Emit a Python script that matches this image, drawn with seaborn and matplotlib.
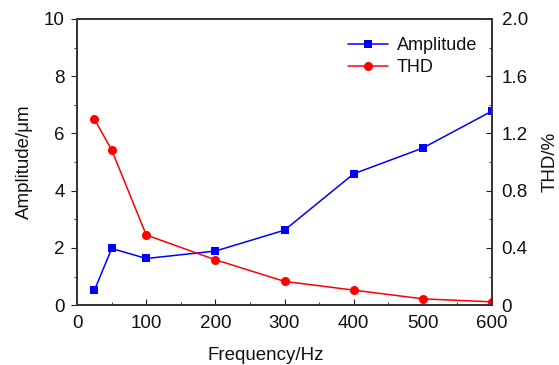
import numpy as np
import pandas as pd
import seaborn as sns
import matplotlib
matplotlib.use("Agg")
import matplotlib.pyplot as plt
from matplotlib.ticker import MultipleLocator

freq = [25, 50, 100, 200, 300, 400, 500, 600]
amplitude = [0.52, 1.98, 1.63, 1.89, 2.62, 4.59, 5.49, 6.78]
thd = [1.30, 1.084, 0.49, 0.317, 0.166, 0.105, 0.044, 0.023]

sns.set_style("ticks")
plt.rcParams["font.family"] = ["Liberation Sans", "DejaVu Sans"]
plt.rcParams["font.size"] = 13.5
plt.rcParams["text.color"] = "#111111"
plt.rcParams["axes.labelcolor"] = "#111111"
plt.rcParams["xtick.color"] = "#222222"
plt.rcParams["ytick.color"] = "#222222"
plt.rcParams["xtick.labelcolor"] = "#111111"
plt.rcParams["ytick.labelcolor"] = "#111111"

fig = plt.figure(figsize=(5.59, 3.65), dpi=100)
ax = fig.add_axes([0.138, 0.164, 0.742, 0.784])
ax2 = ax.twinx()

sns.lineplot(x=freq, y=amplitude, ax=ax, color="blue", marker="s", markersize=5.5,
             markeredgewidth=0, linewidth=1.1, label="Amplitude", legend=False)
sns.lineplot(x=freq, y=thd, ax=ax2, color="red", marker="o", markersize=6.5,
             markeredgewidth=0, linewidth=1.1, label="THD", legend=False)

ax.set_xlim(0, 600)
ax.set_ylim(0, 10)
ax2.set_ylim(0, 2.0)
ax.xaxis.set_major_locator(MultipleLocator(100))
ax.xaxis.set_minor_locator(MultipleLocator(50))
ax.yaxis.set_major_locator(MultipleLocator(2))
ax.yaxis.set_minor_locator(MultipleLocator(1))
ax2.set_yticks([0, 0.4, 0.8, 1.2, 1.6, 2.0])
ax2.set_yticklabels(["0", "0.4", "0.8", "1.2", "1.6", "2.0"])
ax2.yaxis.set_minor_locator(MultipleLocator(0.2))

ax.set_xlabel("Frequency/Hz", fontsize=13.5, labelpad=10)
ax.xaxis.set_label_coords(0.455, -0.145)
ax.set_ylabel("Amplitude/\u03bcm", fontsize=13.5, labelpad=8)
ax2.set_ylabel("THD/%", fontsize=13.5, labelpad=10)

for a in (ax, ax2):
    for s in a.spines.values():
        s.set_visible(True)
        s.set_color("#333333")
        s.set_linewidth(1.2)
ax.tick_params(axis="x", which="both", direction="in", labelsize=13.5, pad=7)
ax.tick_params(axis="x", which="major", length=4)
ax.tick_params(axis="x", which="minor", length=2.5)
ax.tick_params(axis="y", which="both", direction="out", labelsize=13.5, pad=5)
ax.tick_params(axis="y", which="major", length=4)
ax.tick_params(axis="y", which="minor", length=2.5)
ax2.tick_params(axis="y", which="both", direction="in", labelsize=13.5, pad=7)
ax2.tick_params(axis="y", which="major", length=4)
ax2.tick_params(axis="y", which="minor", length=2.5)

h1, l1 = ax.get_legend_handles_labels()
h2, l2 = ax2.get_legend_handles_labels()
ax2.legend(h1 + h2, l1 + l2, loc="upper right", bbox_to_anchor=(0.995, 0.98),
           frameon=False, fontsize=13, handlelength=2.2, handletextpad=0.5,
           borderaxespad=0.3, labelspacing=0.25)

fig.savefig("out.png", dpi=100)
